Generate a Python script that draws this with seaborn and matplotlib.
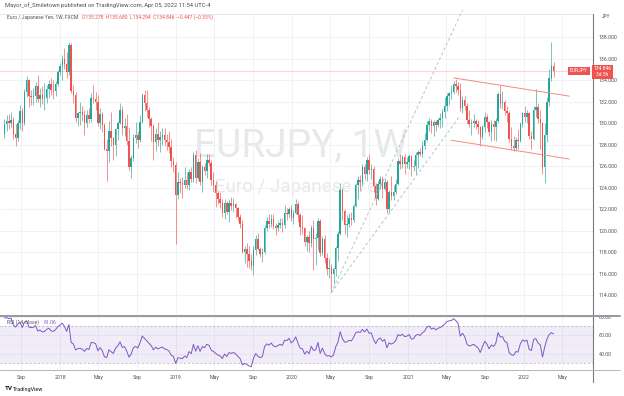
import numpy as np
import pandas as pd
import matplotlib
matplotlib.use("Agg")
import matplotlib.pyplot as plt
import matplotlib.dates as mdates
from matplotlib.lines import Line2D
import seaborn as sns

# EURJPY weekly candles (FXCM), first week starts 2017-07-10
first_week = "2017-07-10"

# closes of the weeks before the visible window, only used to warm up the RSI
pre_closes = [119.3, 119.8, 121.9, 121.6, 120.4, 119.0, 117.5, 115.4, 116.4, 121.3,
              122.9, 124.3, 124.2, 124.6, 123.9, 123.1, 123.9, 124.4, 128.1, 129.0]

closes = [
    # 2017
    129.9, 130.2, 130.0, 130.3, 129.0, 128.6, 130.0, 131.1, 130.0, 132.9, 134.0, 132.5, 132.4,
    132.5, 133.4, 132.2, 132.6, 132.2, 132.3, 133.2, 133.6, 133.1, 133.0, 133.6, 134.7,
    # 2018
    135.3, 136.0, 135.5, 134.7, 137.3, 133.0, 132.6, 130.5, 130.9, 131.0, 130.7, 130.0, 130.7,
    130.4, 132.3, 132.2, 132.0, 130.0, 130.8, 129.8, 127.6, 127.4, 129.3, 128.6, 128.0, 129.4,
    130.0, 131.2, 129.5, 129.7, 128.3, 125.9, 126.7, 128.6, 128.9, 128.4, 130.1, 132.6, 131.9,
    131.2, 130.4, 129.7, 128.2, 129.0, 128.4, 128.7, 128.9, 128.4, 128.2, 127.8, 126.5, 126.1,
    123.3,
    # 2019
    124.5, 124.4, 124.2, 124.7, 124.2, 125.4, 124.8, 127.0, 124.9, 126.4, 124.5, 125.9, 125.5,
    126.6, 126.3, 124.7, 124.2, 123.5, 122.9, 122.6, 121.6, 122.6, 121.7, 122.6, 122.3, 122.5,
    122.1, 121.3, 120.6, 118.0, 118.3, 117.8, 117.2, 116.7, 118.2, 119.2, 118.3, 117.8, 118.0,
    120.2, 120.9, 120.6, 121.1, 120.4, 120.2, 120.5, 120.7, 120.5, 121.6, 121.5, 122.0, 121.2,
    # 2020
    121.6, 122.5, 121.4, 120.3, 120.2, 118.9, 119.4, 118.8, 120.2, 119.2, 119.3, 120.9, 117.9,
    119.2, 117.4, 116.4, 116.5, 116.0, 116.4, 118.4, 119.7, 123.8, 121.8, 120.5, 120.6, 121.2,
    121.0, 122.3, 124.2, 124.7, 124.5, 125.9, 125.3, 126.6, 125.6, 125.7, 124.1, 122.9, 124.3,
    124.8, 123.9, 124.5, 122.0, 123.6, 123.2, 123.6, 124.3, 126.5, 126.2, 126.8, 126.2, 126.4,
    # 2021
    126.9, 125.9, 126.0, 127.0, 127.3, 127.1, 127.9, 128.4, 129.8, 130.2, 129.7, 130.1, 129.8,
    130.3, 130.5, 131.0, 131.6, 132.5, 132.8, 132.9, 133.6, 133.4, 133.1, 131.4, 132.1, 131.6,
    130.3, 129.9, 130.0, 130.2, 129.9, 129.6, 128.7, 129.6, 130.6, 130.1, 129.2, 129.9, 129.6,
    130.2, 132.7, 131.9, 132.0, 131.1, 130.9, 128.5, 127.9, 127.7, 128.4, 128.3, 129.9, 130.9,
    # 2022
    130.6, 130.9, 128.8, 128.5, 131.2, 131.5, 130.4, 130.0, 125.9, 128.9, 132.0, 134.2, 135.293,
    134.846,
]

highs = [
    130.4, 130.7, 130.8, 131.0, 130.6, 129.9, 130.3, 131.7, 131.4, 133.2, 134.4, 134.1, 133.1,
    133.3, 133.8, 134.5, 133.3, 133.4, 133.7, 133.5, 134.0, 134.2, 134.0, 133.9, 134.9,
    135.6, 136.3, 137.0, 136.6, 137.5, 137.4, 133.5, 132.9, 131.0, 132.0, 131.6, 131.2, 131.2,
    131.4, 132.8, 133.5, 132.9, 132.6, 131.4, 131.0, 130.0, 128.5, 130.2, 131.0, 128.7, 129.5,
    130.2, 131.9, 131.6, 130.5, 130.8, 129.6, 127.0, 129.0, 130.1, 129.3, 130.7, 132.8, 133.1,
    133.1, 131.5, 130.6, 129.9, 129.5, 130.1, 129.3, 129.5, 129.5, 129.0, 129.3, 128.5, 126.8,
    126.4,
    125.4, 124.9, 125.0, 125.9, 125.4, 125.7, 125.9, 127.3, 127.5, 126.7, 127.2, 126.1, 126.3,
    127.1, 127.1, 126.6, 125.4, 124.6, 123.7, 123.6, 122.9, 122.9, 122.7, 122.9, 123.1, 123.0,
    122.6, 122.2, 121.5, 121.0, 118.6, 118.8, 118.6, 117.8, 118.6, 119.6, 119.8, 118.5, 118.4,
    120.5, 121.3, 121.5, 121.5, 121.5, 120.7, 120.9, 121.2, 121.2, 122.4, 122.1, 122.2, 122.4,
    121.9, 122.9, 122.7, 121.6, 121.4, 120.3, 119.6, 120.0, 120.5, 121.0, 119.8, 121.2, 121.1,
    119.5, 119.6, 117.9, 117.4, 116.9, 116.6, 118.6, 120.0, 124.4, 124.0, 122.0, 121.4, 121.6,
    121.7, 122.5, 124.4, 125.1, 125.2, 126.2, 126.2, 126.8, 127.1, 126.2, 126.0, 124.4, 124.6,
    125.1, 125.1, 124.9, 124.7, 123.8, 125.1, 124.2, 124.8, 126.7, 127.1, 127.0, 127.1, 126.8,
    127.1, 127.0, 126.6, 127.3, 127.5, 127.7, 128.3, 129.1, 130.2, 130.5, 130.4, 130.3, 130.3,
    130.5, 130.9, 131.3, 132.4, 132.8, 132.9, 133.5, 133.9, 134.1, 133.8, 133.7, 132.5, 132.5,
    131.9, 131.2, 130.4, 130.8, 130.4, 130.3, 129.7, 129.8, 131.0, 130.8, 130.2, 130.3, 130.3,
    130.5, 132.9, 133.5, 133.0, 132.1, 131.6, 131.1, 129.6, 128.8, 128.7, 129.4, 130.1, 131.0,
    131.6, 131.2, 131.0, 129.3, 131.6, 133.2, 131.9, 131.2, 130.1, 130.0, 132.4, 135.0, 137.54,
    135.680,
]

lows = [
    128.6, 129.3, 129.4, 129.6, 128.5, 127.9, 128.3, 129.4, 129.3, 129.8, 132.4, 131.5, 131.7,
    131.7, 132.0, 132.0, 131.5, 131.8, 131.2, 131.9, 132.3, 132.6, 132.2, 132.5, 133.4,
    134.5, 134.0, 135.0, 134.2, 134.5, 132.8, 131.9, 130.1, 129.7, 129.8, 130.2, 128.9, 129.6,
    130.0, 130.1, 131.9, 131.2, 129.7, 129.4, 129.2, 127.5, 124.6, 126.4, 127.9, 126.6, 126.9,
    128.4, 129.9, 128.9, 128.8, 128.0, 125.6, 124.9, 126.5, 128.1, 127.7, 128.2, 130.0, 131.1,
    130.6, 129.6, 128.3, 126.6, 127.4, 127.9, 127.3, 128.0, 127.9, 127.5, 127.2, 125.9, 125.4,
    118.7,
    122.9, 123.5, 123.0, 124.0, 123.9, 123.8, 124.5, 124.5, 124.4, 124.7, 124.2, 123.6, 125.2,
    124.9, 126.0, 124.2, 123.6, 122.2, 122.5, 122.1, 121.3, 121.1, 121.5, 120.8, 121.9, 121.7,
    121.2, 120.9, 120.2, 117.9, 117.0, 116.6, 116.5, 116.3, 115.9, 117.7, 118.2, 117.5, 117.1,
    117.8, 120.0, 120.2, 120.3, 120.1, 119.6, 120.0, 120.2, 119.9, 120.2, 121.0, 121.3, 120.9,
    120.6, 121.5, 120.8, 119.6, 119.7, 118.6, 118.1, 118.0, 118.5, 116.3, 116.8, 118.2, 117.6,
    117.7, 117.0, 115.9, 115.6, 114.4, 115.0, 115.8, 117.2, 119.6, 121.0, 119.7, 119.4, 120.3,
    120.5, 120.8, 122.2, 122.9, 123.7, 124.2, 124.8, 124.6, 125.3, 124.8, 123.6, 122.4, 122.8,
    123.9, 123.0, 123.8, 121.6, 121.6, 122.8, 122.8, 123.4, 124.2, 125.7, 125.8, 125.3, 125.8,
    125.7, 125.1, 125.5, 125.3, 125.8, 126.9, 126.8, 127.6, 128.3, 129.3, 129.1, 128.8, 129.3,
    129.6, 129.5, 129.6, 130.5, 131.1, 131.7, 132.2, 132.7, 132.9, 132.6, 131.1, 130.9, 131.2,
    129.9, 129.6, 128.9, 129.6, 129.4, 129.0, 127.9, 128.5, 129.2, 129.5, 128.8, 128.3, 128.4,
    128.3, 130.0, 131.4, 131.3, 130.7, 130.1, 128.2, 127.5, 127.4, 127.4, 127.6, 128.2, 129.6,
    130.1, 130.0, 128.5, 127.6, 128.4, 130.6, 130.0, 127.6, 125.3, 124.4, 128.2, 131.6, 133.9,
    134.294,
]

last_price = 134.846
rsi_last = "61.06"

price_ticks = [114, 116, 118, 120, 122, 124, 126, 128, 130, 132, 134, 136, 138]
rsi_ticks = [40, 60, 80]
date_ticks = ["2017-09-01", "2018-01-01", "2018-05-01", "2018-09-01", "2019-01-01",
              "2019-05-01", "2019-09-01", "2020-01-01", "2020-05-01", "2020-09-01",
              "2021-01-01", "2021-05-01", "2021-09-01", "2022-01-01", "2022-05-01"]
date_labels = ["Sep", "2018", "May", "Sep", "2019", "May", "Sep", "2020", "May", "Sep",
               "2021", "May", "Sep", "2022", "May"]

# drawings on the chart: (dates, prices)
channel_top = (["2021-05-24", "2022-05-23"], [134.2, 132.5])
channel_bottom = (["2021-05-17", "2022-05-23"], [128.4, 126.65])
fan_steep = (["2020-05-04", "2021-06-21"], [114.2, 140.5])
fan_flat = (["2020-05-04", "2021-06-14"], [114.2, 130.7])

GREEN = "#26a69a"
RED = "#ef5350"
PURPLE = "#7e57c2"
TXT = "#50535e"

sns.set_style("white")
plt.rcParams["font.family"] = ["Roboto", "DejaVu Sans"]

W, H = 624, 396
def fx(px):
    return px / W
def fy(py):
    return 1 - py / H

weeks = pd.date_range(first_week, periods=len(closes), freq="7D")
x = mdates.date2num(weeks)
c = np.array(closes)
o = np.array([pre_closes[-1]] + closes[:-1])
hi = np.array(highs)
lo = np.array(lows)

# RSI(14) on closes, Wilder smoothing
allc = pd.Series(pre_closes + closes)
d = allc.diff()
gain = d.clip(lower=0).ewm(alpha=1 / 14, adjust=False).mean()
loss = (-d.clip(upper=0)).ewm(alpha=1 / 14, adjust=False).mean()
rsi = (100 - 100 / (1 + gain / loss)).iloc[len(pre_closes):].to_numpy()

x0 = mdates.date2num(pd.Timestamp("2017-06-26"))
x1 = mdates.date2num(pd.Timestamp("2022-08-06"))
tick_x = mdates.date2num(pd.to_datetime(date_ticks))

fig = plt.figure(figsize=(6.24, 3.96), dpi=100)
ax = fig.add_axes([0, fy(315), fx(593), (315 - 14) / H])
ax_rsi = fig.add_axes([0, fy(370), fx(593), (370 - 316) / H])

# ---- price pane
for s in ax.spines.values():
    s.set_visible(False)
ax.spines["top"].set_visible(True)
ax.spines["top"].set_color("#e0e3eb")
ax.spines["top"].set_linewidth(0.6)
ax.set_xlim(x0, x1)
ax.set_ylim(112.14, 140.14)
ax.set_xticks(tick_x)
ax.tick_params(axis="x", length=0, labelbottom=False)
ax.yaxis.tick_right()
ax.set_yticks(price_ticks)
ax.set_yticklabels([f"{p:.3f}" for p in price_ticks])
ax.tick_params(axis="y", length=0, pad=4, labelsize=3.8, labelcolor=TXT)
ax.grid(True, color="#eef0f4", lw=0.6)
ax.set_axisbelow(True)

ax.text(fx(301), fy(146), "EURJPY, 1W", transform=fig.transFigure, fontsize=28,
        color="#e7e8eb", ha="center", va="center", zorder=0)
ax.text(fx(301), fy(187), "Euro / Japanese Yen", transform=fig.transFigure, fontsize=13.5,
        color="#e7e8eb", ha="center", va="center", zorder=0)

ax.axhline(last_price, color=RED, lw=0.5, alpha=0.35, zorder=1)

up = c >= o
cols = np.where(up, GREEN, RED)
ax.vlines(x, lo, hi, colors=cols, lw=0.45, zorder=3)
ax.bar(x, np.abs(c - o), bottom=np.minimum(o, c), width=4.6, color=cols, lw=0, zorder=3)

for seg in (channel_top, channel_bottom):
    ax.plot(mdates.date2num(pd.to_datetime(seg[0])), seg[1], color="#f28b82", lw=0.7, zorder=4)
for seg in (fan_steep, fan_flat):
    ax.plot(mdates.date2num(pd.to_datetime(seg[0])), seg[1], color="#b3c7bf", lw=0.7,
            dashes=(3, 2.5), zorder=4, clip_on=False)

# ---- RSI pane
for s in ax_rsi.spines.values():
    s.set_visible(False)
ax_rsi.axhspan(30, 70, color=PURPLE, alpha=0.1, lw=0)
ax_rsi.axhline(70, color="#787b86", lw=0.5, alpha=0.6, dashes=(3, 3))
ax_rsi.axhline(30, color="#787b86", lw=0.5, alpha=0.6, dashes=(3, 3))
ax_rsi.axhline(50, color="#787b86", lw=0.4, alpha=0.25, dashes=(1, 2))
sns.lineplot(x=x, y=rsi, ax=ax_rsi, color=PURPLE, lw=0.7)
ax_rsi.set_xlim(x0, x1)
ax_rsi.set_ylim(22.3, 81.3)
ax_rsi.set_xlabel("")
ax_rsi.set_ylabel("")
ax_rsi.yaxis.tick_right()
ax_rsi.set_yticks(rsi_ticks)
ax_rsi.set_yticklabels([f"{r:.2f}" for r in rsi_ticks])
ax_rsi.set_xticks(tick_x)
ax_rsi.set_xticklabels(date_labels)
ax_rsi.tick_params(axis="y", length=0, pad=4, labelsize=3.8, labelcolor=TXT)
ax_rsi.tick_params(axis="x", length=0, pad=3.5, labelsize=3.8, labelcolor=TXT)
ax_rsi.grid(True, color="#eef0f4", lw=0.6)
ax_rsi.set_axisbelow(True)

# ---- frame lines
fig.add_artist(Line2D([fx(593), fx(593)], [fy(14), fy(382)], color="#787b86", lw=0.8))
fig.add_artist(Line2D([0, fx(620)], [fy(315.5), fy(315.5)], color="#9598a1", lw=1.4))
fig.add_artist(Line2D([0, fx(620)], [fy(370), fy(370)], color="#b2b5be", lw=0.7))

# ---- texts
fig.text(fx(5), fy(5.6), "Mayor_of_Smiletown published on TradingView.com, Apr 05, 2022 11:54 UTC-4",
         fontsize=4.2, color="#4f4f4f", va="center")
fig.text(fx(7), fy(17.5), "Euro / Japanese Yen, 1W, FXCM", fontsize=3.6, color=TXT, va="center")
fig.text(fx(82), fy(17.5), "O135.278  H135.680  L134.294  C134.846  \u22120.447 (\u22120.33%)",
         fontsize=3.6, color=RED, va="center")
fig.text(fx(606), fy(16), "JPY", fontsize=3.4, color=TXT, ha="center", va="center")

fig.text(fx(7), fy(322), "RSI (14, close)", fontsize=3.6, color=TXT, va="center")
fig.text(fx(44), fy(322), rsi_last, fontsize=3.6, color=PURPLE, va="center")

fig.text(fx(579), fy(71), "EURJPY", fontsize=3.6, color="white", ha="center", va="center",
         bbox=dict(boxstyle="square,pad=0.35", fc=RED, ec="none"))
fig.text(fx(602.5), fy(72), f"{last_price:.3f}\n3d 5h", fontsize=3.6, color="white",
         ha="center", va="center", linespacing=1.25,
         bbox=dict(boxstyle="square,pad=0.35", fc=RED, ec="none"))

fig.text(fx(5), fy(389), "TV", fontsize=4.6, color="#131722", weight="bold", va="center")
fig.text(fx(13), fy(389), "TradingView", fontsize=4.0, color="#131722", va="center")

fig.savefig("out.png", dpi=100)
